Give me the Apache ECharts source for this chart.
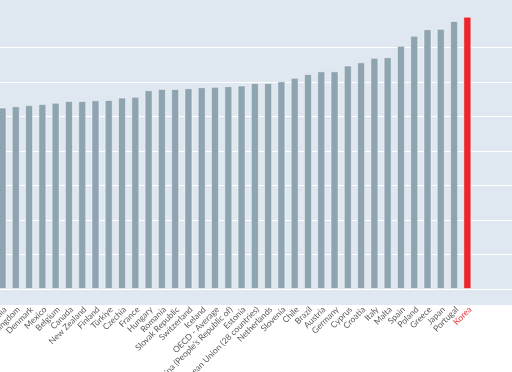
<!DOCTYPE html>
<html>
<head>
<meta charset="utf-8">
<script src="https://cdn.jsdelivr.net/npm/echarts@6/dist/echarts.min.js"></script>
<style>html,body{margin:0;padding:0;background:#fff}#c{width:512px;height:372px}</style>
</head>
<body>
<div id="c"></div>
<script>
const categories = ["Australia","United Kingdom","Denmark","Mexico","Belgium","Canada","New Zealand","Finland","Türkiye","Czechia","France","Hungary","Romania","Slovak Republic","Switzerland","Iceland","OECD - Average","China (People's Republic of)","Estonia","European Union (28 countries)","Netherlands","Slovenia","Chile","Brazil","Austria","Germany","Cyprus","Croatia","Italy","Malta","Spain","Poland","Greece","Japan","Portugal","Korea"];
const values = [52.6,53.0,53.3,53.6,54.0,54.5,54.5,54.7,54.8,55.5,55.7,57.6,58.0,58.0,58.2,58.5,58.6,58.8,59.0,59.7,59.7,60.2,61.2,62.3,63.1,63.1,64.8,65.7,67.0,67.2,70.5,73.4,75.3,75.4,77.7,78.9];
const highlight = "Korea";
const yMin = 0, yMax = 80, yStep = 10;

const chart = echarts.init(document.getElementById('c'), null, {renderer:'canvas'});
const gridTop = 13, gridBottom = 83;
chart.setOption({
  animation:false,
  backgroundColor:'#ffffff',
  graphic:[{type:'rect', z:-10, silent:true, shape:{x:0,y:0,width:512,height:305}, style:{fill:'#dfe8f0'}}],
  grid:[
    {left:0, right:0, top:gridTop, bottom:gridBottom, containLabel:false, outerBoundsMode:'none'},
    {left:-4.14, right:38, top:gridTop, bottom:gridBottom, containLabel:false, outerBoundsMode:'none'}
  ],
  xAxis:[
    {type:'value', gridIndex:0, show:false, min:0, max:1},
    {type:'category', gridIndex:1, data:categories,
     axisLine:{show:false}, axisTick:{show:false},
     axisLabel:{interval:0, rotate:45, margin:22, fontFamily:'Lato', fontSize:8.5, padding:[0,-4,0,0],
       color:(v)=> v===highlight ? '#e8333b' : '#5a5a5a'}}
  ],
  yAxis:[
    {type:'value', gridIndex:0, min:yMin, max:yMax, interval:yStep,
     axisLine:{show:false}, axisTick:{show:false}, axisLabel:{show:false},
     splitLine:{show:true, showMaxLine:false, lineStyle:{color:'#ffffff', width:1.2}}},
    {type:'value', gridIndex:1, min:yMin, max:yMax, interval:yStep, show:false,
     splitLine:{show:false}}
  ],
  series:[{
    type:'bar', xAxisIndex:1, yAxisIndex:1, barWidth:8,
    data: values.map((v,i)=>({value:v, itemStyle:{color: categories[i]===highlight ? '#e8262d' : '#8fa4b1'}})),
    itemStyle:{borderColor:'rgba(255,255,255,0.45)', borderWidth:1}
  }]
});
</script>
</body>
</html>
